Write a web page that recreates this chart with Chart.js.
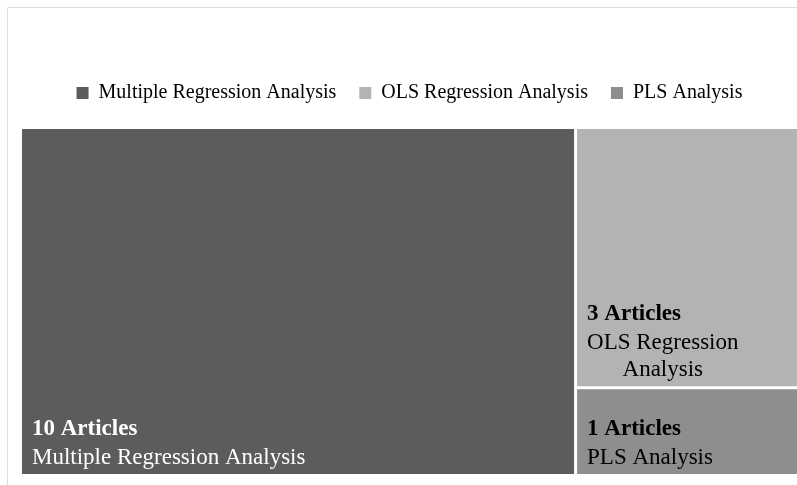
<!DOCTYPE html>
<html>
<head>
<meta charset="utf-8">
<script src="https://cdn.jsdelivr.net/npm/chart.js@4/dist/chart.umd.min.js"></script>
<style>
  html, body { margin: 0; padding: 0; background: #ffffff; }
  #wrap { width: 797px; height: 485px; position: relative; }
</style>
</head>
<body>
<div id="wrap"><canvas id="myChart"></canvas></div>
<script>
"use strict";

// articles per analysis method --------------
const categories = ["Multiple Regression Analysis", "OLS Regression Analysis", "PLS Analysis"];
const articleCounts = [10, 3, 1];
const countLabels = articleCounts.map((n) => `${n} Articles`);

const tileColors = ["#5c5c5c", "#b3b3b3", "#8e8e8e"];
const textColors = ["#ffffff", "#000000", "#000000"];
const serif = "'Liberation Serif', 'Times New Roman', serif";

// squarified treemap layout, rects in units of a w x h box
function layoutTiles(values, w, h) {
  const total = values.reduce((a, b) => a + b, 0);
  const items = values
    .map((v, i) => ({ i, area: (v / total) * w * h }))
    .sort((a, b) => b.area - a.area);
  const rects = [];
  let box = { x: 0, y: 0, w, h };
  let row = [];

  const worst = (r, side) => {
    const s = r.reduce((a, it) => a + it.area, 0);
    let m = 0;
    r.forEach((it) => {
      m = Math.max(m, (side * side * it.area) / (s * s), (s * s) / (side * side * it.area));
    });
    return m;
  };

  const place = (r) => {
    const s = r.reduce((a, it) => a + it.area, 0);
    if (box.w >= box.h) {
      const cw = s / box.h;
      let y = box.y;
      r.forEach((it) => {
        const rh = it.area / cw;
        rects[it.i] = { x: box.x, y, w: cw, h: rh };
        y += rh;
      });
      box = { x: box.x + cw, y: box.y, w: box.w - cw, h: box.h };
    } else {
      const rh = s / box.w;
      let x = box.x;
      r.forEach((it) => {
        const rw = it.area / rh;
        rects[it.i] = { x, y: box.y, w: rw, h: rh };
        x += rw;
      });
      box = { x: box.x, y: box.y + rh, w: box.w, h: box.h - rh };
    }
  };

  items.forEach((item) => {
    const side = Math.min(box.w, box.h);
    if (row.length && worst(row.concat(item), side) > worst(row, side)) {
      place(row);
      row = [];
    }
    row.push(item);
  });
  if (row.length) place(row);
  return rects;
}

function wrapWords(ctx, text, maxWidth) {
  const words = text.split(" ");
  const lines = [];
  let line = "";
  words.forEach((w) => {
    const test = line ? line + " " + w : w;
    if (line && ctx.measureText(test).width > maxWidth) {
      lines.push(line);
      line = w;
    } else {
      line = test;
    }
  });
  if (line) lines.push(line);
  return lines;
}

// light frame around the figure
const framePlugin = {
  id: "frame",
  beforeInit(chart) {
    // extra room under the legend
    const fit = chart.legend.fit;
    chart.legend.fit = function () {
      fit.call(this);
      this.height += 16;
    };
  },
  beforeDraw(chart) {
    const ctx = chart.ctx;
    ctx.save();
    ctx.strokeStyle = "#dedede";
    ctx.lineWidth = 1;
    ctx.beginPath();
    ctx.moveTo(7.5, chart.height);
    ctx.lineTo(7.5, 7.5);
    ctx.lineTo(chart.width, 7.5);
    ctx.stroke();
    ctx.restore();
  },
};

// tiles + labels ----------------
const treemapPlugin = {
  id: "treemap",
  beforeDatasetsDraw(chart) {
    const { ctx, chartArea, scales } = chart;
    const x = scales.x;
    const y = scales.y;
    const aw = chartArea.right - chartArea.left;
    const ah = chartArea.bottom - chartArea.top;
    const maxX = aw / ah;
    const rects = layoutTiles(articleCounts, maxX, 1);
    const gap = 1.5;
    const eps = 1e-6;

    ctx.save();
    rects.forEach((r, i) => {
      let left = x.getPixelForValue(r.x / maxX);
      let right = x.getPixelForValue((r.x + r.w) / maxX);
      let top = y.getPixelForValue(r.y);
      let bottom = y.getPixelForValue(r.y + r.h);
      if (r.x > eps) left += gap;
      if (r.x + r.w < maxX - eps) right -= gap;
      if (r.y > eps) top += gap;
      if (r.y + r.h < 1 - eps) bottom -= gap;

      ctx.fillStyle = tileColors[i];
      ctx.fillRect(left, top, right - left, bottom - top);

      // label: bold count, then the method name, anchored bottom-left
      const padX = 10;
      const lineH = 27;
      ctx.font = `23px ${serif}`;
      const nameLines = wrapWords(ctx, categories[i], right - left - 2 * padX);
      const widest = Math.max(...nameLines.map((l) => ctx.measureText(l).width));
      ctx.fillStyle = textColors[i];
      ctx.textBaseline = "middle";
      ctx.textAlign = "center";
      const lastY = bottom - 16;
      let ty = lastY - (nameLines.length - 1) * lineH;
      const firstY = ty;
      nameLines.forEach((l) => {
        ctx.fillText(l, left + padX + widest / 2, ty);
        ty += lineH;
      });
      ctx.font = `bold 23px ${serif}`;
      ctx.textAlign = "left";
      ctx.fillText(countLabels[i], left + padX, firstY - 29);
    });
    ctx.restore();
  },
};

const ctx = document.getElementById("myChart").getContext("2d");
const myChart = new Chart(ctx, {
  type: "scatter",
  data: {
    datasets: categories.map((name, i) => ({
      label: name,
      data: [],
      backgroundColor: tileColors[i],
      borderColor: tileColors[i],
      borderWidth: 0,
      pointRadius: 0,
    })),
  },
  options: {
    responsive: true,
    maintainAspectRatio: false,
    animation: false,
    layout: {
      padding: { top: 60, left: 22, right: 0, bottom: 11 },
    },
    scales: {
      x: { type: "linear", min: 0, max: 1, display: false },
      y: { type: "linear", min: 0, max: 1, reverse: true, display: false },
    },
    plugins: {
      legend: {
        position: "top",
        labels: {
          boxWidth: 12,
          boxHeight: 12,
          padding: 23,
          color: "#000000",
          font: { family: serif, size: 20 },
        },
      },
      tooltip: { enabled: false },
    },
  },
  plugins: [framePlugin, treemapPlugin],
});
</script>
</body>
</html>
